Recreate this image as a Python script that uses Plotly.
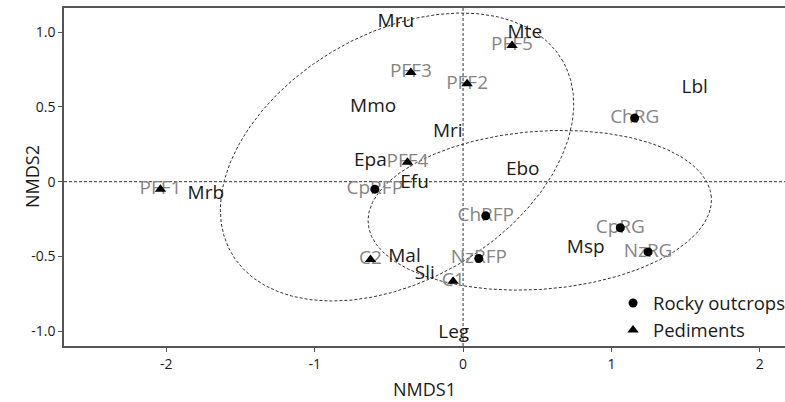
import numpy as np
import plotly.graph_objects as go

# Sites (gray labels)
rock_sites = ["CpRFP", "ChRFP", "NzRFP", "ChRG", "CpRG", "NzRG"]
rock_x = [-0.595, 0.153, 0.106, 1.157, 1.06, 1.247]
rock_y = [-0.05, -0.228, -0.513, 0.425, -0.308, -0.469]

ped_sites = ["PFF1", "PFF2", "PFF3", "PFF4", "PFF5", "C1", "C2"]
ped_x = [-2.04, 0.027, -0.352, -0.375, 0.33, -0.067, -0.624]
ped_y = [-0.05, 0.654, 0.73, 0.13, 0.911, -0.665, -0.52]

# Species (black labels)
species = ["Mru", "Mte", "Lbl", "Mmo", "Mri", "Epa", "Efu", "Ebo", "Mrb",
           "Mal", "Sli", "Leg", "Msp"]
species_x = [-0.453, 0.416, 1.561, -0.606, -0.103, -0.625, -0.327, 0.402,
             -1.734, -0.395, -0.258, -0.063, 0.827]
species_y = [1.063, 0.994, 0.626, 0.498, 0.328, 0.139, -0.011, 0.078,
             -0.082, -0.502, -0.62, -1.011, -0.442]

# Group ellipses: pediments, rocky outcrops
ell_cx = [-0.445, 0.517]
ell_cy = [0.165, -0.191]
ell_a = [1.288, 1.16]
ell_b = [0.828, 0.528]
ell_angle = [29.8, 4.3]

x_ticks = [-2, -1, 0, 1, 2]
x_ticktext = ["-2", "-1", "0", "1", "2"]
y_ticks = [-1.0, -0.5, 0, 0.5, 1.0]
y_ticktext = ["-1.0", "-0.5", "0", "0.5", "1.0"]

FONT = "Open Sans"
GRAY = "#858585"
BLACK = "#1a1a1a"

fig = go.Figure()

# ellipses
t = np.linspace(0, 2 * np.pi, 361)
for cx, cy, a, b, ang in zip(ell_cx, ell_cy, ell_a, ell_b, ell_angle):
    th = np.deg2rad(ang)
    ex = cx + a * np.cos(t) * np.cos(th) - b * np.sin(t) * np.sin(th)
    ey = cy + a * np.cos(t) * np.sin(th) + b * np.sin(t) * np.cos(th)
    fig.add_trace(go.Scatter(x=ex, y=ey, mode="lines", showlegend=False,
                             hoverinfo="skip",
                             line=dict(color="#333333", width=1, dash="3px,2px")))

# site labels (gray)
fig.add_trace(go.Scatter(x=rock_x + ped_x, y=rock_y + ped_y, mode="text",
                         text=rock_sites + ped_sites, textposition="middle center",
                         textfont=dict(family=FONT, size=19, color=GRAY),
                         showlegend=False))
# species labels
fig.add_trace(go.Scatter(x=species_x, y=species_y, mode="text",
                         text=species, textposition="middle center",
                         textfont=dict(family=FONT, size=19, color=BLACK),
                         showlegend=False))

# markers
fig.add_trace(go.Scatter(x=rock_x, y=rock_y, mode="markers", name="Rocky outcrops",
                         marker=dict(symbol="circle", size=9, color="black")))
fig.add_trace(go.Scatter(x=ped_x, y=ped_y, mode="markers", name="Pediments",
                         marker=dict(symbol="triangle-up", size=10, color="black")))

fig.add_shape(type="line", xref="x", yref="paper", x0=0, x1=0, y0=0, y1=1,
              line=dict(color="#333333", width=1, dash="3px,2px"), layer="below")
fig.add_shape(type="line", xref="paper", yref="y", x0=0, x1=1, y0=0, y1=0,
              line=dict(color="#333333", width=1, dash="3px,2px"), layer="below")

fig.add_annotation(text="NMDS2", xref="paper", yref="paper", x=-0.0638, y=0.5,
                   textangle=-90, showarrow=False, font=dict(family=FONT, size=18, color=BLACK))

fig.update_layout(
    width=785, height=402,
    margin=dict(l=64, r=0, t=8, b=56, autoexpand=False),
    plot_bgcolor="white", paper_bgcolor="white",
    font=dict(family=FONT, size=14, color=BLACK),
    showlegend=True,
    legend=dict(x=0.7615, y=0.182, xanchor="left", yanchor="top",
                bgcolor="rgba(0,0,0,0)", font=dict(family=FONT, size=18.5, color=BLACK),
                itemwidth=30, tracegroupgap=0),
    xaxis=dict(range=[-2.69, 2.17], tickvals=x_ticks, ticktext=x_ticktext,
               showgrid=False, zeroline=False, showline=True, mirror=True,
               linecolor="#555555", linewidth=1.5, ticks="outside", ticklen=4,
               tickcolor="#555555", title=dict(text="NMDS1", font=dict(size=18), standoff=12),
               tickfont=dict(size=14)),
    yaxis=dict(range=[-1.098, 1.161], tickvals=y_ticks, ticktext=y_ticktext,
               showgrid=False, zeroline=False, showline=True, mirror=False,
               linecolor="#555555", linewidth=1.5, ticks="outside", ticklen=4,
               tickcolor="#555555", tickfont=dict(size=14)),
)

fig.write_html("out.html", config={"displayModeBar": False},
               post_script="document.body.style.margin='0';document.body.style.overflow='hidden';")
